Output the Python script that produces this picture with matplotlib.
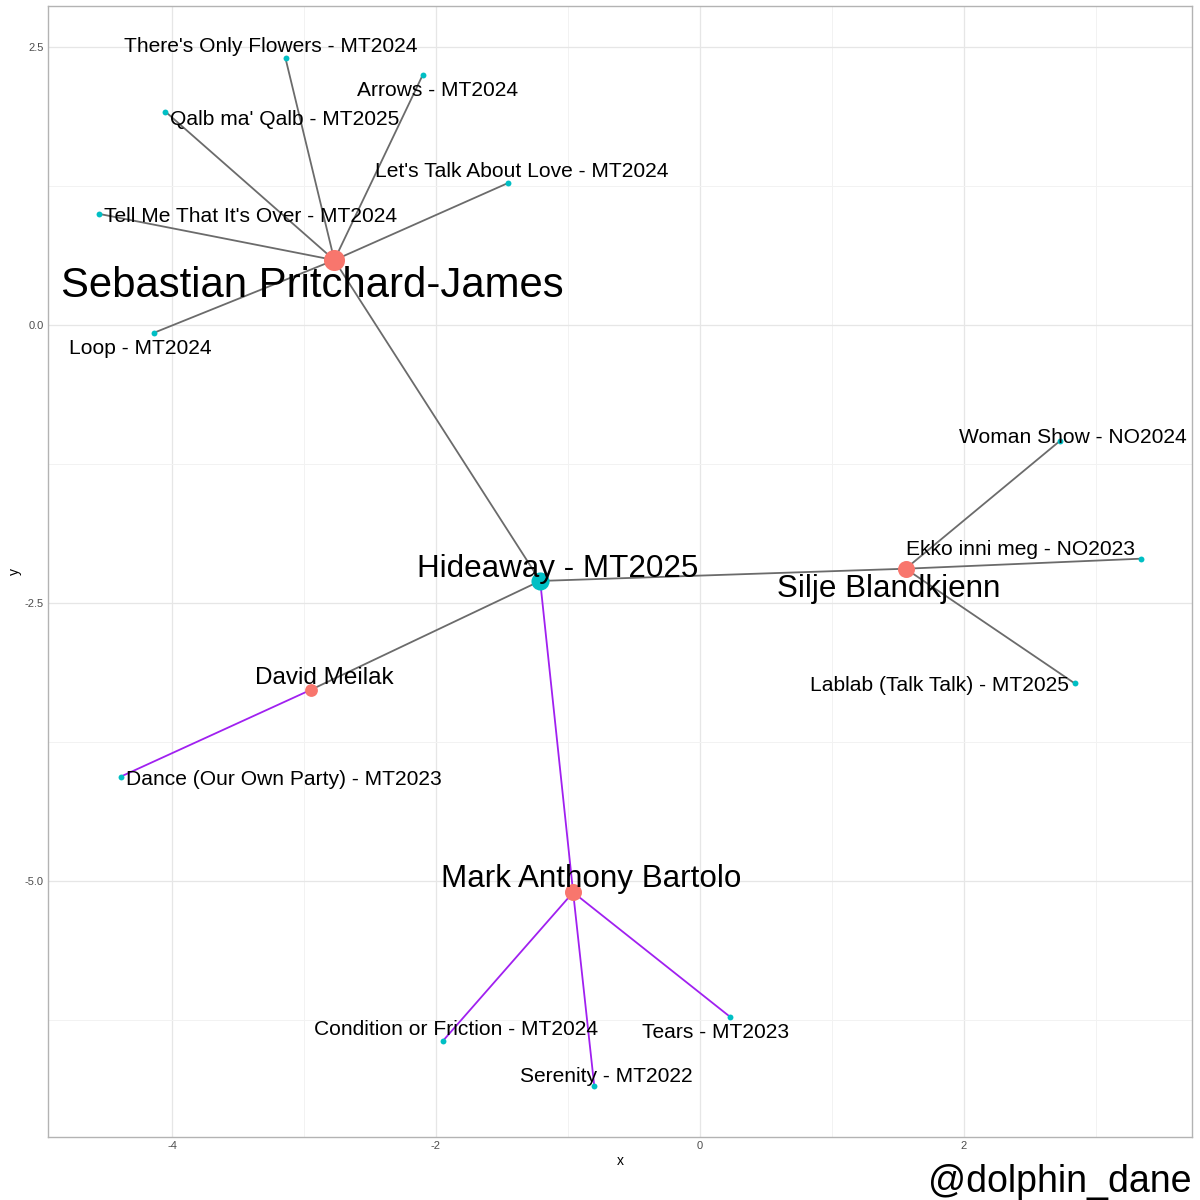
import matplotlib
matplotlib.use("Agg")
import matplotlib.pyplot as plt
from matplotlib.ticker import MultipleLocator

plt.rcParams['font.family'] = ['Liberation Sans', 'DejaVu Sans']
plt.rcParams['axes.unicode_minus'] = False

# ---- data ----
node_names = ["Sebastian Pritchard-James", "Hideaway - MT2025", "Silje Blandkjenn",
              "David Meilak", "Mark Anthony Bartolo",
              "There's Only Flowers - MT2024", "Arrows - MT2024", "Qalb ma' Qalb - MT2025",
              "Let's Talk About Love - MT2024", "Tell Me That It's Over - MT2024", "Loop - MT2024",
              "Woman Show - NO2024", "Ekko inni meg - NO2023", "Lablab (Talk Talk) - MT2025",
              "Dance (Our Own Party) - MT2023", "Condition or Friction - MT2024",
              "Serenity - MT2022", "Tears - MT2023"]
node_x = [-2.77, -1.21, 1.56, -2.95, -0.96,
          -3.14, -2.10, -4.05, -1.45, -4.55, -4.14,
          2.73, 3.34, 2.84, -4.39, -1.95, -0.80, 0.23]
node_y = [0.585, -2.30, -2.19, -3.28, -5.10,
          2.40, 2.25, 1.92, 1.28, 1.00, -0.07,
          -1.04, -2.10, -3.22, -4.06, -6.44, -6.84, -6.22]
node_type = ["artist", "song", "artist", "artist", "artist",
             "song", "song", "song", "song", "song", "song",
             "song", "song", "song", "song", "song", "song", "song"]
node_degree = [7, 4, 4, 2, 4, 1, 1, 1, 1, 1, 1, 1, 1, 1, 1, 1, 1, 1]

edge_from = ["Sebastian Pritchard-James"] * 7 + ["Hideaway - MT2025"] * 3 + ["Silje Blandkjenn"] * 3 + \
            ["David Meilak"] + ["Mark Anthony Bartolo"] * 3
edge_to = ["There's Only Flowers - MT2024", "Arrows - MT2024", "Qalb ma' Qalb - MT2025",
           "Let's Talk About Love - MT2024", "Tell Me That It's Over - MT2024", "Loop - MT2024",
           "Hideaway - MT2025",
           "Silje Blandkjenn", "David Meilak", "Mark Anthony Bartolo",
           "Woman Show - NO2024", "Ekko inni meg - NO2023", "Lablab (Talk Talk) - MT2025",
           "Dance (Our Own Party) - MT2023",
           "Condition or Friction - MT2024", "Serenity - MT2022", "Tears - MT2023"]
edge_group = ["a"] * 13 + ["b"] * 4
edge_group[9] = "b"

# ---- label placement (data coordinates, from repel layout) ----
label_pos = {
    "There's Only Flowers - MT2024": (-3.25, 2.518),
    "Arrows - MT2024": (-1.985, 2.122),
    "Qalb ma' Qalb - MT2025": (-3.144, 1.862),
    "Let's Talk About Love - MT2024": (-1.348, 1.394),
    "Tell Me That It's Over - MT2024": (-3.402, 0.989),
    "Sebastian Pritchard-James": (-2.939, 0.378),
    "Loop - MT2024": (-4.242, -0.198),
    "Woman Show - NO2024": (2.826, -0.999),
    "Ekko inni meg - NO2023": (2.432, -2.0),
    "Silje Blandkjenn": (1.432, -2.347),
    "Hideaway - MT2025": (-1.076, -2.167),
    "Lablab (Talk Talk) - MT2025": (1.818, -3.228),
    "David Meilak": (-2.848, -3.157),
    "Dance (Our Own Party) - MT2023": (-3.152, -4.074),
    "Mark Anthony Bartolo": (-0.826, -4.955),
    "Condition or Friction - MT2024": (-1.848, -6.322),
    "Tears - MT2023": (0.121, -6.349),
    "Serenity - MT2022": (-0.705, -6.745),
}

pos = {n: (x, y) for n, x, y in zip(node_names, node_x, node_y)}

fig = plt.figure(figsize=(12, 12), dpi=100)
ax = fig.add_axes([0.04, 0.0525, 0.9533, 0.9425])

edge_colors = {"a": "#6b6b6b", "b": "#A020F0"}
for f, t, g in zip(edge_from, edge_to, edge_group):
    ax.plot([pos[f][0], pos[t][0]], [pos[f][1], pos[t][1]], color=edge_colors[g], lw=1.3, zorder=2)

type_colors = {"artist": "#F8766D", "song": "#00BFC4"}
size_map = {7: 230, 4: 150, 2: 85, 1: 18}
for n, x, y, tp, d in zip(node_names, node_x, node_y, node_type, node_degree):
    s = size_map[d]
    if n == "Hideaway - MT2025":
        s = 170
    ax.scatter([x], [y], s=s, color=type_colors[tp], zorder=3, linewidths=0)

font_map = {7: 30.2, 4: 22.6, 2: 17.5, 1: 15.1}
for n, d in zip(node_names, node_degree):
    lx, ly = label_pos[n]
    fs = font_map[d]
    ax.annotate(n, xy=(lx, ly), xytext=(0, -0.075 * fs), textcoords='offset points',
                fontsize=fs, ha='center', va='center', color='black', zorder=4)

ax.set_xlim(-4.94, 3.73)
ax.set_ylim(-7.30, 2.87)
ax.xaxis.set_major_locator(MultipleLocator(2))
ax.xaxis.set_minor_locator(MultipleLocator(1))
ax.yaxis.set_minor_locator(MultipleLocator(1.25))
ax.set_yticks([2.5, 0.0, -2.5, -5.0])
ax.set_yticklabels(["2.5", "0.0", "-2.5", "-5.0"])
ax.grid(which='major', color='#e6e6e6', lw=0.9, zorder=0)
ax.grid(which='minor', color='#f2f2f2', lw=0.7, zorder=0)
ax.set_axisbelow(True)
for sp in ax.spines.values():
    sp.set_color('#b3b3b3')
    sp.set_linewidth(1.0)
ax.tick_params(which='both', length=0, labelsize=8, colors='#4d4d4d', pad=3)
ax.set_xlabel("x", fontsize=10, labelpad=2)
ax.set_ylabel("y", fontsize=10, labelpad=2)

fig.text(0.9933, 0.0, "@dolphin_dane", fontsize=27, ha='right', va='bottom')

fig.savefig("out.png", dpi=100)
